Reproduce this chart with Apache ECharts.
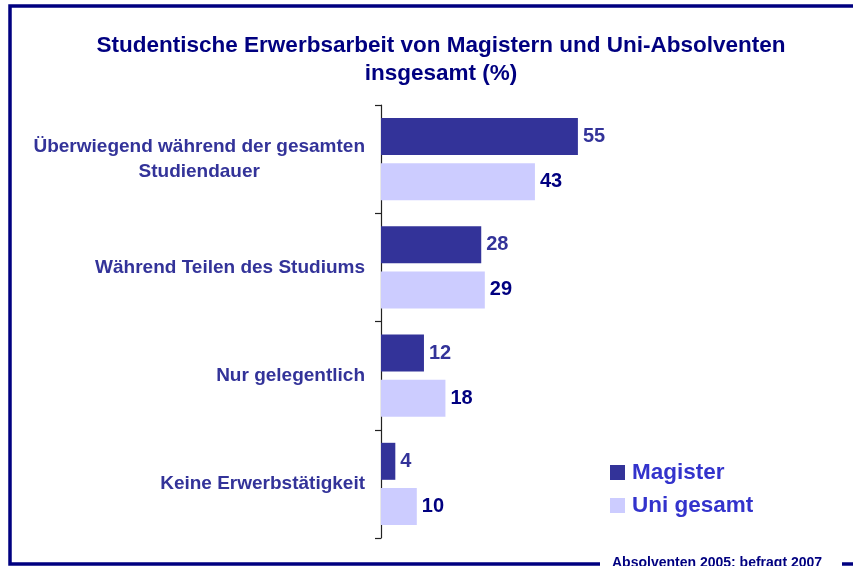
<!DOCTYPE html>
<html>
<head>
<meta charset="utf-8">
<script src="https://cdn.jsdelivr.net/npm/echarts@6/dist/echarts.min.js"></script>
<style>
  html, body { margin: 0; padding: 0; background: #fff; }
  #chart { width: 853px; height: 566px; }
</style>
</head>
<body>
<div id="chart"></div>
<script>
// data
var categories = ['Überwiegend während der gesamten\nStudiendauer', 'Während Teilen des Studiums', 'Nur gelegentlich', 'Keine Erwerbstätigkeit'];
var magister = [55, 28, 12, 4];
var uniGesamt = [43, 29, 18, 10];
var seriesNames = ['Magister', 'Uni gesamt'];
var footnote = 'Absolventen 2005; befragt 2007';

var font = '"Liberation Sans", Arial, sans-serif';
var navy = '#000080';

var myChart = echarts.init(document.getElementById('chart'));

myChart.setOption({
    backgroundColor: '#fff',
    animation: false,
    title: {
        text: 'Studentische Erwerbsarbeit von Magistern und Uni-Absolventen\ninsgesamt (%)',
        left: 441,
        top: 32,
        padding: 0,
        textAlign: 'center',
        textStyle: { fontFamily: font, fontSize: 22.5, fontWeight: 'bold', color: navy, lineHeight: 28 }
    },
    legend: {
        orient: 'vertical',
        left: 610,
        top: 461,
        padding: 0,
        itemGap: 10,
        itemWidth: 15,
        itemHeight: 15,
        icon: 'rect',
        data: seriesNames,
        textStyle: { fontFamily: font, fontSize: 22.5, fontWeight: 'bold', color: '#3333cc', lineHeight: 22, padding: [0, 0, 0, 2] }
    },
    grid: { left: 381, top: 105, width: 358, height: 433 },
    xAxis: { type: 'value', min: 0, max: 100, show: false },
    yAxis: {
        type: 'category',
        inverse: true,
        data: categories,
        axisLine: { lineStyle: { color: '#222', width: 1.2 } },
        axisTick: { show: true, alignWithLabel: false, interval: 0, length: 6, lineStyle: { color: '#222', width: 1.2 } },
        axisLabel: {
            margin: 16,
            formatter: function (v) {
                return v.split('\n').map(function (s) { return '{c|' + s + '}'; }).join('\n');
            },
            rich: {
                c: { fontFamily: font, fontSize: 19, fontWeight: 'bold', color: '#333399', align: 'center', lineHeight: 25 }
            }
        }
    },
    series: [
        {
            name: seriesNames[0],
            type: 'bar',
            data: magister,
            barWidth: 37,
            barGap: '22%',
            itemStyle: { color: '#333399' },
            label: { show: true, position: 'right', distance: 5, fontFamily: font, fontSize: 20, fontWeight: 'bold', color: '#333399' }
        },
        {
            name: seriesNames[1],
            type: 'bar',
            data: uniGesamt,
            barWidth: 37,
            barGap: '22%',
            itemStyle: { color: '#ccccff' },
            label: { show: true, position: 'right', distance: 5, fontFamily: font, fontSize: 20, fontWeight: 'bold', color: navy }
        }
    ],
    graphic: [
        { type: 'polyline', silent: true, shape: { points: [[600, 564], [10, 564], [10, 6], [870, 6]] }, style: { stroke: navy, lineWidth: 3.5, fill: null } },
        { type: 'line', silent: true, shape: { x1: 842, y1: 564, x2: 870, y2: 564 }, style: { stroke: navy, lineWidth: 3.5 } },
        { type: 'text', silent: true, x: 612, y: 563, style: { text: footnote, font: 'bold 14px ' + font, fill: navy, verticalAlign: 'middle' } }
    ]
});
</script>
</body>
</html>
